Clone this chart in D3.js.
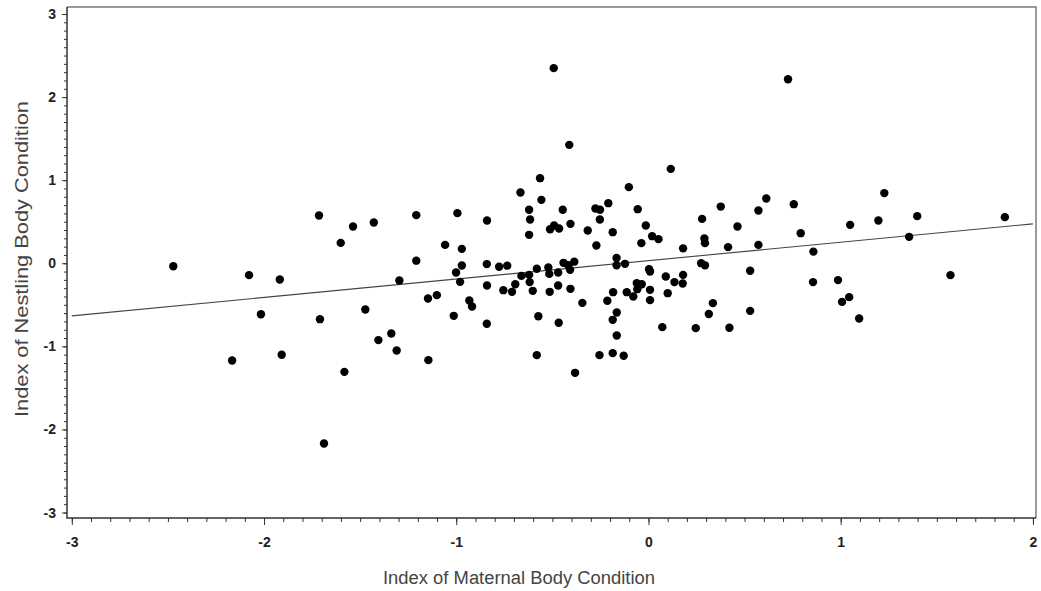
<!DOCTYPE html>
<html>
<head>
<meta charset="utf-8">
<script src="https://cdn.jsdelivr.net/npm/d3@7"></script>
<style>
  html, body { margin: 0; padding: 0; background: #fff; }
  svg { display: block; }
</style>
</head>
<body>
<svg id="chart" width="1041" height="591"></svg>
<script>
// ---- data ----
const maternalIndex = [
  -2.472, -2.078, -1.918, -2.016, -1.709, -1.473, -1.338, -1.405, -1.310, -2.166,
  -1.908, -1.582, -1.688, -1.296, -1.714, -1.601, -1.537, -1.429,
  -0.493, -0.412, 0.116, -0.564, -0.666, -0.102, -0.557, -0.209, 0.376, -1.208,
  -0.994, -0.840, -0.621, -0.616, -0.446, -0.276, -0.252, -0.253, -0.056, 0.279,
  -0.512, -0.491, -0.465, -0.406, -0.316, -0.186, -0.014, -0.621, -1.058, -0.971,
  -0.271, -0.037, 0.019, 0.052, 0.180, 0.291, 0.294, -1.208, -0.971, -0.841,
  -0.777, -0.735, -0.581, -0.521, -0.442, -0.418, -0.386, -0.166, -0.166, -0.122,
  0.003, 0.274, 0.294,
  -1.001, -0.980, -0.840, -0.755, -0.710, -0.693, -0.661, -0.621, -0.618, -0.602,
  -0.516, -0.470, -0.470, -0.514, -0.408, -0.406, -0.344, -0.184, -0.214, -0.165,
  -0.186, -0.165, -0.255, -0.186, -0.129, -0.113, -0.079, -0.061, -0.035, -0.058,
  0.008, 0.008, 0.008, 0.090, 0.100, 0.135, 0.180, 0.178, 0.335, 0.314,
  0.246, 0.072, -1.147, -1.101, -0.932, -0.918, -1.013, -0.841, -0.573, -0.467,
  -1.145, -0.581, -0.382,
  0.726, 1.227, 0.613, 0.572, 0.756, 0.463, 0.792, 1.049, 1.196, 1.398,
  1.854, 1.356, 0.414, 0.572, 0.858, 0.529, 0.856, 0.986, 1.007, 1.044,
  1.096, 1.571, 0.529, 0.421
];
const nestlingIndex = [
  -0.037, -0.143, -0.196, -0.613, -0.673, -0.557, -0.846, -0.925, -1.051, -1.171,
  -1.102, -1.307, -2.170, -0.208, 0.574, 0.245, 0.442, 0.490,
  2.348, 1.425, 1.136, 1.024, 0.851, 0.916, 0.763, 0.723, 0.682, 0.579,
  0.603, 0.514, 0.643, 0.526, 0.643, 0.658, 0.643, 0.526, 0.651, 0.534,
  0.410, 0.454, 0.418, 0.474, 0.394, 0.374, 0.454, 0.342, 0.221, 0.173,
  0.213, 0.242, 0.326, 0.290, 0.179, 0.297, 0.242, 0.031, -0.028, -0.010,
  -0.043, -0.029, -0.067, -0.052, 0.005, -0.023, 0.019, 0.063, -0.024, -0.007,
  -0.071, 0.001, -0.025,
  -0.112, -0.224, -0.268, -0.324, -0.344, -0.252, -0.152, -0.140, -0.227, -0.332,
  -0.128, -0.112, -0.268, -0.344, -0.079, -0.308, -0.477, -0.348, -0.452, -0.593,
  -0.681, -0.870, -1.106, -1.082, -1.114, -0.348, -0.401, -0.239, -0.252, -0.312,
  -0.100, -0.320, -0.444, -0.160, -0.360, -0.227, -0.140, -0.244, -0.480, -0.611,
  -0.781, -0.769, -0.425, -0.384, -0.449, -0.521, -0.633, -0.729, -0.637, -0.717,
  -1.166, -1.106, -1.319,
  2.215, 0.844, 0.779, 0.634, 0.711, 0.442, 0.362, 0.462, 0.514, 0.567,
  0.555, 0.318, 0.194, 0.221, 0.140, -0.091, -0.227, -0.203, -0.465, -0.408,
  -0.665, -0.143, -0.573, -0.777
];
// fitted regression line end points
const fitX = [-3, 2];
const fitY = [-0.633, 0.474];
// ticks
const xMajorTicks = [-3, -2, -1, 0, 1, 2];
const yMajorTicks = [-3, -2, -1, 0, 1, 2, 3];
const xTitle = "Index of Maternal Body Condition";
const yTitle = "Index of Nestling Body Condition";

// ---- layout ----
const svg = d3.select("#chart");
const x = d3.scaleLinear().domain([-3.025, 2.016]).range([67, 1036]);
const y = d3.scaleLinear().domain([-3.066, 3.084]).range([518, 7]);
const [xl, xr] = x.range();
const [yb, yt] = y.range();

const xMinor = d3.range(-30, 21).map(d => d / 10);
const yMinor = d3.range(-30, 31).map(d => d / 10);

// frame: top and right borders (lighter)
svg.append("path")
  .attr("d", `M${xl},${yt}H${xr}V${yb}`)
  .attr("fill", "none").attr("stroke", "#7a7a7a").attr("stroke-width", 1.5);

// x axis
const gx = svg.append("g").attr("transform", `translate(0,${yb})`);
gx.call(d3.axisBottom(x).tickValues(xMinor).tickSize(4).tickFormat(""));
gx.call(g => g.select(".domain").remove());
const gxMaj = svg.append("g").attr("transform", `translate(0,${yb})`);
gxMaj.call(d3.axisBottom(x).tickValues(xMajorTicks).tickSize(7).tickPadding(12).tickFormat(d3.format("d")));
gxMaj.select(".domain").remove();

// y axis
const gy = svg.append("g").attr("transform", `translate(${xl},0)`);
gy.call(d3.axisLeft(y).tickValues(yMinor).tickSize(3).tickFormat(""));
gy.call(g => g.select(".domain").remove());
const gyMaj = svg.append("g").attr("transform", `translate(${xl},0)`);
gyMaj.call(d3.axisLeft(y).tickValues(yMajorTicks).tickSize(5).tickPadding(6).tickFormat(d3.format("d")));
gyMaj.select(".domain").remove();

svg.selectAll(".tick line").attr("stroke", "#333").attr("stroke-width", 1);
svg.selectAll(".tick text")
  .attr("font-family", "Liberation Sans, Arial, sans-serif")
  .attr("font-size", 14).attr("font-weight", "bold").attr("fill", "#222")
  .text(function() { return d3.select(this).text().replace("−", "-"); });

// axis lines (left & bottom, dark)
svg.append("path")
  .attr("d", `M${xl},${yt}V${yb}H${xr}`)
  .attr("fill", "none").attr("stroke", "#333").attr("stroke-width", 1.5);

// regression line
svg.append("line")
  .attr("x1", x(fitX[0])).attr("y1", y(fitY[0]))
  .attr("x2", x(fitX[1])).attr("y2", y(fitY[1]))
  .attr("stroke", "#444").attr("stroke-width", 1.1);

// points
svg.append("g").selectAll("circle")
  .data(d3.range(maternalIndex.length))
  .join("circle")
  .attr("cx", i => x(maternalIndex[i]))
  .attr("cy", i => y(nestlingIndex[i]))
  .attr("r", 4.2)
  .attr("fill", "#000");

// titles
svg.append("text")
  .attr("x", 519).attr("y", 584)
  .attr("text-anchor", "middle")
  .attr("font-family", "Liberation Sans, Arial, sans-serif")
  .attr("font-size", 18).attr("fill", "#444")
  .attr("textLength", 272).attr("lengthAdjust", "spacingAndGlyphs")
  .text(xTitle);

svg.append("text")
  .attr("transform", "translate(28,259) rotate(-90)")
  .attr("text-anchor", "middle")
  .attr("font-family", "Liberation Sans, Arial, sans-serif")
  .attr("font-size", 18).attr("fill", "#444")
  .attr("textLength", 316).attr("lengthAdjust", "spacingAndGlyphs")
  .text(yTitle);
</script>
</body>
</html>
